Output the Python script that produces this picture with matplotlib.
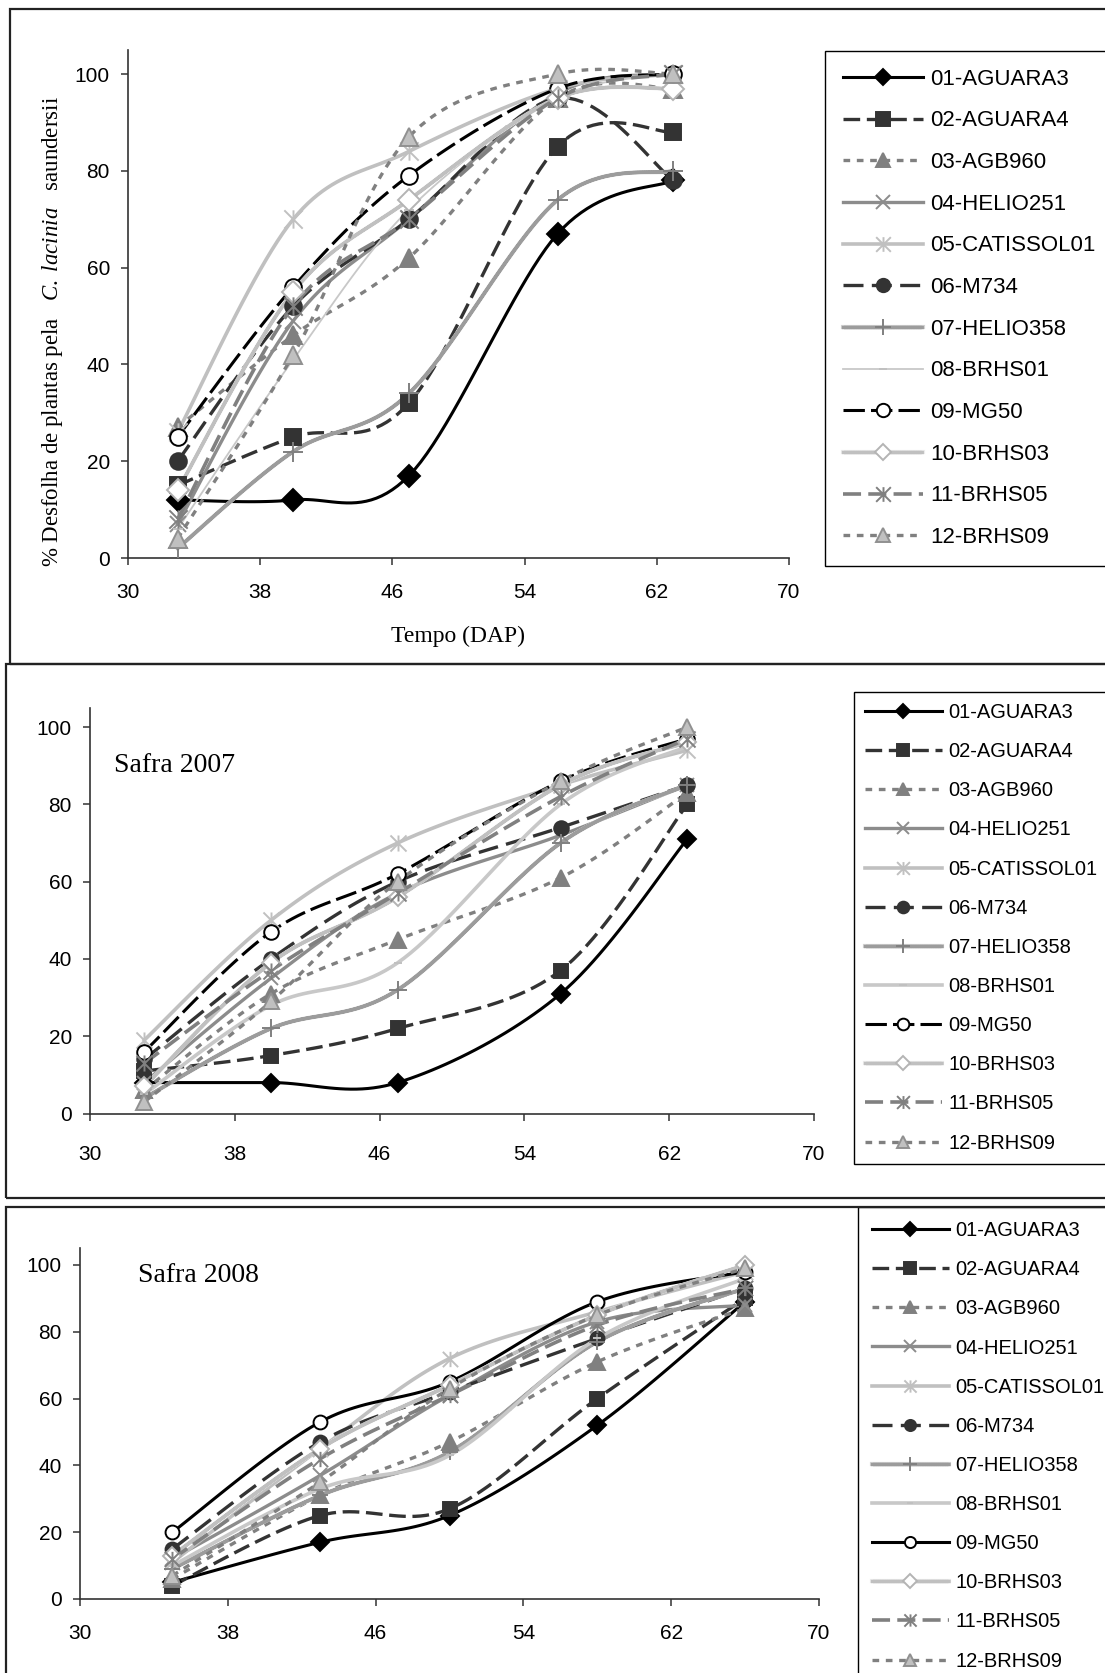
import numpy as np
import matplotlib
matplotlib.use('Agg')
import matplotlib.pyplot as plt
from matplotlib.patches import Rectangle
from matplotlib.path import Path
from matplotlib.legend_handler import HandlerTuple
import matplotlib.patheffects as pe

plt.rcParams['font.family'] = ['Liberation Sans', 'DejaVu Sans']
plt.rcParams['mathtext.fontset'] = 'custom'
plt.rcParams['mathtext.rm'] = 'Liberation Serif'
plt.rcParams['mathtext.it'] = 'Liberation Serif:italic'

# cultivares (legenda)
cultivares = ['01-AGUARA3', '02-AGUARA4', '03-AGB960', '04-HELIO251',
              '05-CATISSOL01', '06-M734', '07-HELIO358', '08-BRHS01',
              '09-MG50', '10-BRHS03', '11-BRHS05', '12-BRHS09']

# dias apos plantio
dias_p1 = [33, 40, 47, 56, 63]
dias_2007 = [33, 40, 47, 56, 63]
dias_2008 = [35, 43, 50, 58, 66]

# % desfolha - painel superior
desf_p1 = [
    [12, 12, 17, 67, 78],
    [15, 25, 32, 85, 88],
    [27, 46, 62, 95, 97],
    [7, 49, 70, 96, 100],
    [26, 70, 84, 97, 100],
    [20, 52, 70, 95, 78],
    [2, 22, 34, 74, 80],
    [6, 41, 72, 95, 100],
    [25, 56, 79, 97, 100],
    [14, 55, 74, 95, 97],
    [8, 52, 70, 95, 100],
    [4, 42, 87, 100, 100],
]

# % desfolha - safra 2007
desf_2007 = [
    [8, 8, 8, 31, 71],
    [11, 15, 22, 37, 80],
    [6, 31, 45, 61, 83],
    [8, 35, 57, 72, 85],
    [19, 50, 70, 85, 94],
    [14, 40, 60, 74, 85],
    [4, 22, 32, 70, 85],
    [5, 28, 39, 80, 95],
    [16, 47, 62, 86, 97],
    [7, 39, 56, 85, 96],
    [13, 37, 57, 82, 97],
    [3, 29, 60, 86, 100],
]

# % desfolha - safra 2008
desf_2008 = [
    [5, 17, 25, 52, 89],
    [4, 25, 27, 60, 90],
    [6, 31, 47, 71, 87],
    [12, 37, 61, 83, 88],
    [11, 45, 72, 86, 98],
    [15, 47, 62, 78, 93],
    [9, 31, 44, 77, 93],
    [10, 33, 43, 78, 96],
    [20, 53, 65, 89, 98],
    [13, 45, 64, 85, 100],
    [12, 42, 61, 82, 93],
    [7, 35, 63, 85, 99],
]

# marcador asterisco (x + barra vertical) como no Excel
ast = Path([(0, -1), (0, 1), (-1, -1), (1, 1), (-1, 1), (1, -1)],
           [Path.MOVETO, Path.LINETO, Path.MOVETO, Path.LINETO, Path.MOVETO, Path.LINETO])

estilos = [
    dict(c='black', ls='-', lw=2.2, m='D', mfc='black', mec='black', ms=9),
    dict(c='#333333', ls=(0, (5, 2)), lw=2.4, m='s', mfc='#333333', mec='#333333', ms=10),
    dict(c='#808080', ls=(0, (2, 2)), lw=2.4, m='^', mfc='#808080', mec='#808080', ms=11),
    dict(c='#8c8c8c', ls='-', lw=2.4, m='x', mfc='none', mec='#8c8c8c', ms=10),
    dict(c='#c0c0c0', ls='-', lw=2.6, m=ast, mfc='none', mec='#c0c0c0', ms=11),
    dict(c='#333333', ls=(0, (6, 2.5)), lw=2.4, m='o', mfc='#333333', mec='#333333', ms=10),
    dict(c='#d4d4d4', ls='-', lw=3.0, m='+', mfc='none', mec='#808080', ms=12, hatch='#9c9c9c'),
    dict(c='#c8c8c8', ls='-', lw=1.3, m='_', mfc='none', mec='#c0c0c0', ms=6),
    dict(c='black', ls=(0, (7, 2)), lw=2.2, m='o', mfc='white', mec='black', ms=10),
    dict(c='#ececec', ls='-', lw=3.0, m='D', mfc='white', mec='#b4b4b4', ms=9, hatch='#c0c0c0'),
    dict(c='#808080', ls=(0, (5, 2)), lw=2.6, m=ast, mfc='none', mec='#808080', ms=11),
    dict(c='#808080', ls=(0, (2, 2)), lw=2.4, m='^', mfc='#c0c0c0', mec='#909090', ms=11),
]


def suaviza(x, y, n=24):
    # curva suavizada tipo Excel (Bezier / Catmull-Rom)
    p = np.column_stack([x, y]).astype(float)
    out = []
    for i in range(len(p) - 1):
        p0 = p[i - 1] if i > 0 else p[i]
        p1, p2 = p[i], p[i + 1]
        p3 = p[i + 2] if i + 2 < len(p) else p[i + 1]
        c1 = p1 + (p2 - p0) / 6
        c2 = p2 - (p3 - p1) / 6
        t = np.linspace(0, 1, n)[:, None]
        seg = (1 - t) ** 3 * p1 + 3 * (1 - t) ** 2 * t * c1 + 3 * (1 - t) * t ** 2 * c2 + t ** 3 * p2
        out.append(seg if i == 0 else seg[1:])
    out = np.vstack(out)
    return out[:, 0], out[:, 1]


W, H = 1105, 1673
fig = plt.figure(figsize=(W / 100, H / 100), dpi=100)


def rect(l, r, t, b):
    return [l / W, (H - b) / H, (r - l) / W, (b - t) / H]


# molduras dos paineis
for (x0, y0, y1) in [(10, 9, 664), (5.5, 664, 1198), (5.5, 1207, 1700)]:
    fig.add_artist(Rectangle((x0 / W, 1 - y1 / H), (W + 10 - x0) / W, (y1 - y0) / H,
                             transform=fig.transFigure, fill=False, lw=1.6,
                             ec='#222222', clip_on=False))

paineis = [
    dict(dias=dias_p1, dados=desf_p1, pos=rect(128, 789, 49.8, 558), leg=(825, 51),
         ms=1.2, xpad=13, lfs=16, hl=3.6, lsp=0.93, bp=0.8, fino=True, mg_solido=False),
    dict(dias=dias_2007, dados=desf_2007, pos=rect(90, 814, 707.7, 1113.5), leg=(854, 692),
         ms=1.05, xpad=18, lfs=14.5, hl=3.8, lsp=1.0, bp=0.55, fino=False, mg_solido=False),
    dict(dias=dias_2008, dados=desf_2008, pos=rect(80, 819, 1248.3, 1599), leg=(858, 1207),
         ms=1.0, xpad=13, lfs=14.5, hl=3.8, lsp=1.0, bp=0.7, fino=False, mg_solido=True),
]

for k, p in enumerate(paineis):
    ax = fig.add_axes(p['pos'])
    handles = []
    for i, (nome, vals) in enumerate(zip(cultivares, p['dados'])):
        e = dict(estilos[i])
        if i == 7 and not p['fino']:
            e['lw'] = 2.6
        if i == 8 and p['mg_solido']:
            e['ls'] = '-'
        xs, ys = suaviza(p['dias'], vals)
        efeitos = None
        if e.get('hatch'):
            efeitos = [pe.Normal(),
                       pe.Stroke(linewidth=e['lw'] * 0.8, foreground=e['hatch'],
                                 dashes={'dash_offset': 0, 'dash_list': [0.7, 0.9]})]
        ln, = ax.plot(xs, ys, color=e['c'], ls=e['ls'], lw=e['lw'], path_effects=efeitos,
                      zorder=2 + i * 0.01)
        mk, = ax.plot(p['dias'], vals, ls='none', marker=e['m'], ms=e['ms'] * p['ms'],
                      mfc=e['mfc'], mec=e['mec'], mew=1.4, zorder=3 + i * 0.01)
        handles.append((ln, mk))
    ax.set_xlim(30, 70)
    ax.set_ylim(0, 105)
    ax.set_xticks(np.arange(30, 71, 8))
    ax.set_yticks(np.arange(0, 101, 20))
    for s in ['top', 'right']:
        ax.spines[s].set_visible(False)
    for s in ['left', 'bottom']:
        ax.spines[s].set_color('#333333')
        ax.spines[s].set_linewidth(1.2)
    ax.tick_params(direction='out', length=5, width=1.1, colors='#333333',
                   labelcolor='black', labelsize=15)
    ax.tick_params(axis='x', pad=p['xpad'])
    ax.tick_params(axis='y', pad=8)
    lx, ly = p['leg']
    leg = ax.legend(handles, cultivares, loc='upper left',
                    bbox_to_anchor=(lx / W, 1 - ly / H), bbox_transform=fig.transFigure,
                    borderaxespad=0, fontsize=p['lfs'], handlelength=p['hl'],
                    handletextpad=0.35, labelspacing=p['lsp'], borderpad=p['bp'],
                    markerscale=0.8,
                    fancybox=False, edgecolor='black', framealpha=1,
                    handler_map={tuple: HandlerTuple(ndivide=1, pad=0)})
    leg.get_frame().set_linewidth(1.0)

    if k == 1:
        ax.text(114 / W, 1 - 765 / H, 'Safra 2007', transform=fig.transFigure,
                family='Liberation Serif', fontsize=20, va='center', ha='left')
    if k == 2:
        ax.text(138 / W, 1 - 1275 / H, 'Safra 2008', transform=fig.transFigure,
                family='Liberation Serif', fontsize=20, va='center', ha='left')

fig.text(53 / W, 1 - 332 / H,
         r'% Desfolha de plantas pela   $\mathit{C.\ lacinia}$   saundersii',
         rotation=90, ha='center', va='center', family='Liberation Serif', fontsize=16.5)
fig.text(458 / W, 1 - 636 / H, 'Tempo (DAP)', ha='center', va='center',
         family='Liberation Serif', fontsize=17)

fig.savefig('out.png', dpi=100)
